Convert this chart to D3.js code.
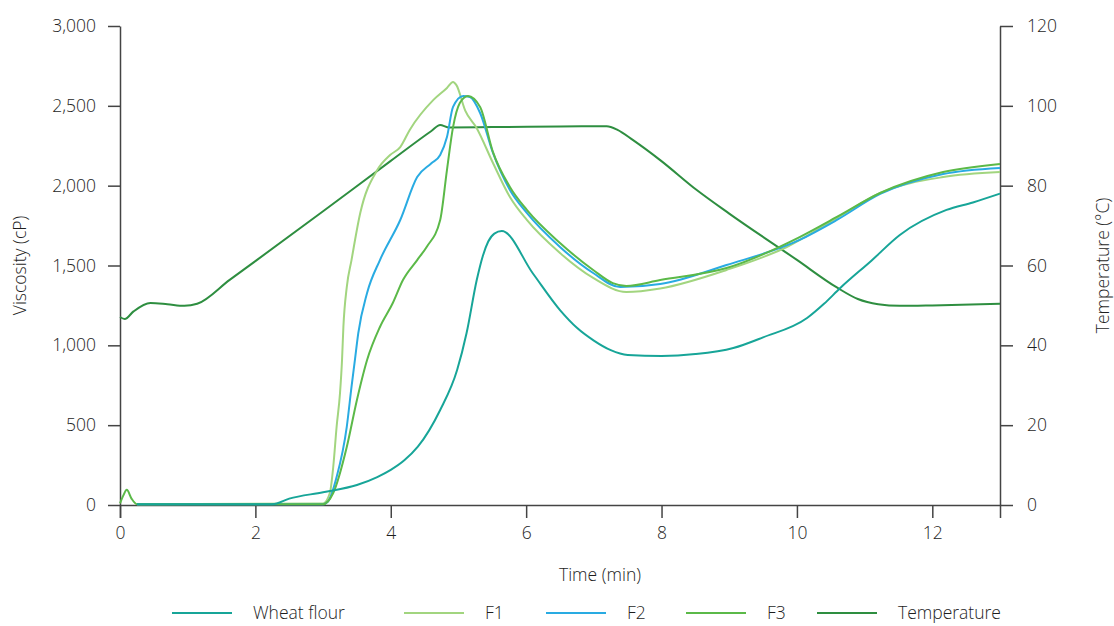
<!DOCTYPE html>
<html>
<head>
<meta charset="utf-8">
<title>Viscosity and temperature</title>
<script src="https://d3js.org/d3.v7.min.js"></script>
<style>
body { margin: 0; background: #fff; }
text { font-family: "Open Sans", sans-serif; fill: #1e1e1e; font-weight: 300; }
.axis path, .axis line { stroke: #444; stroke-width: 1.5; }
.axis text { font-size: 17.5px; }
</style>
</head>
<body>
<div id="chart"></div>
<script>
// viscosity series (cP), each with its own time samples (min)
var wheatT = [0.25, 2.25, 2.5, 3.0, 3.5, 3.8, 4.0, 4.2, 4.4, 4.73, 4.98, 5.12, 5.27, 5.36, 5.44, 5.53, 5.64, 6.1, 6.5, 6.75, 7.0, 7.25, 7.5, 8.0, 8.5, 9.06, 9.5, 10.15, 10.4, 10.64, 11.1, 11.52, 12.21, 12.6, 13];
var wheatV = [5, 5, 40, 80, 125, 175, 220, 280, 365, 595, 845, 1077, 1409, 1560, 1650, 1700, 1716, 1450, 1221, 1110, 1030, 970, 940, 933, 945, 983, 1050, 1171, 1260, 1359, 1530, 1691, 1848, 1895, 1950];

var f1T = [0.25, 3.0, 3.1, 3.15, 3.2, 3.25, 3.28, 3.3, 3.35, 3.42, 3.55, 3.8, 3.99, 4.14, 4.28, 4.63, 4.83, 4.92, 4.97, 5.1, 5.27, 5.51, 5.76, 6.01, 6.5, 6.99, 7.48, 7.98, 8.96, 9.85, 10.59, 11.23, 12.16, 13];
var f1V = [5, 10, 75, 238, 490, 700, 908, 1115, 1365, 1534, 1830, 2098, 2192, 2242, 2349, 2537, 2612, 2650, 2630, 2470, 2360, 2142, 1929, 1785, 1578, 1422, 1334, 1356, 1472, 1616, 1797, 1954, 2054, 2085];

var f2T = [0.25, 3.0, 3.07, 3.2, 3.35, 3.42, 3.47, 3.52, 3.65, 3.84, 4.14, 4.39, 4.6, 4.73, 4.83, 4.92, 5.07, 5.17, 5.32, 5.51, 5.76, 6.01, 6.5, 6.99, 7.39, 7.98, 8.96, 10.04, 10.59, 11.23, 12.16, 13];
var f2V = [5, 5, 20, 175, 490, 740, 908, 1077, 1328, 1534, 1785, 2054, 2140, 2192, 2305, 2493, 2562, 2555, 2455, 2205, 1973, 1829, 1616, 1453, 1365, 1384, 1503, 1660, 1785, 1948, 2073, 2111];

var f3T = [0, 0.05, 0.1, 0.17, 0.25, 3.0, 3.15, 3.35, 3.5, 3.65, 3.84, 4.03, 4.18, 4.39, 4.53, 4.73, 4.83, 4.92, 5.02, 5.14, 5.32, 5.51, 5.76, 6.01, 6.5, 6.99, 7.28, 7.48, 7.98, 8.96, 10.04, 10.59, 11.23, 12.16, 13];
var f3V = [10, 60, 95, 40, 5, 5, 75, 363, 658, 908, 1115, 1265, 1409, 1534, 1616, 1785, 2098, 2367, 2518, 2562, 2493, 2210, 1992, 1848, 1641, 1472, 1390, 1372, 1409, 1484, 1678, 1804, 1954, 2085, 2136];

// temperature (°C)
var tempT = [0, 0.07, 0.2, 0.45, 0.7, 0.95, 1.14, 1.62, 2, 3, 4, 4.6, 4.73, 4.85, 5.5, 6.5, 7.19, 7.35, 7.58, 7.98, 8.52, 9, 10, 10.59, 10.9, 11.2, 11.52, 12, 13];
var tempV = [47.1, 46.6, 48.5, 50.6, 50.3, 49.9, 50.4, 56.4, 61.1, 73.6, 86.2, 93.7, 95.2, 94.6, 94.7, 94.8, 94.9, 94, 91.4, 86.4, 78.9, 73, 61.4, 54.5, 51.6, 50.3, 49.9, 50.0, 50.4];

var xTicks = [0, 2, 4, 6, 8, 10, 12];
var viscTicks = [0, 500, 1000, 1500, 2000, 2500, 3000];
var tempTicks = [0, 20, 40, 60, 80, 100, 120];

var seriesNames = ["Wheat flour", "F1", "F2", "F3", "Temperature"];
var seriesColors = ["#17a598", "#a2d57f", "#29abe2", "#5bb948", "#2e8e40"];

var margin = {top: 26, right: 114, bottom: 121, left: 120},
    width = 1114 - margin.left - margin.right,
    height = 626 - margin.top - margin.bottom;

var svg = d3.select("#chart")
  .append("svg")
    .attr("width", 1114)
    .attr("height", 626);

var g = svg.append("g")
    .attr("transform", "translate(" + margin.left + "," + margin.top + ")");

var x = d3.scaleLinear().domain([0, 13]).range([0, width]);
var yV = d3.scaleLinear().domain([0, 3000]).range([height, 0]);
var yT = d3.scaleLinear().domain([0, 120]).range([height, 0]);

g.append("g")
    .attr("class", "axis")
    .attr("transform", "translate(0," + height + ")")
    .call(d3.axisBottom(x).tickValues(xTicks).tickSize(13).tickSizeOuter(13).tickPadding(9));

g.append("g")
    .attr("class", "axis")
    .call(d3.axisLeft(yV).tickValues(viscTicks).tickSize(12).tickSizeOuter(0).tickPadding(12)
      .tickFormat(d3.format(",")));

g.append("g")
    .attr("class", "axis")
    .attr("transform", "translate(" + width + ",0)")
    .call(d3.axisRight(yT).tickValues(tempTicks).tickSize(13).tickSizeOuter(0).tickPadding(14));

// axis titles
svg.append("text")
    .attr("transform", "translate(26," + (margin.top + height / 2) + ") rotate(-90)")
    .attr("text-anchor", "middle")
    .style("font-size", "17.5px")
    .text("Viscosity (cP)");

svg.append("text")
    .attr("transform", "translate(1109," + (margin.top + height / 2) + ") rotate(-90)")
    .attr("text-anchor", "middle")
    .style("font-size", "17.5px")
    .text("Temperature (°C)");

svg.append("text")
    .attr("x", 600)
    .attr("y", 581)
    .attr("text-anchor", "middle")
    .style("font-size", "17.5px")
    .text("Time (min)");

function pairs(ts, vs) {
  return ts.map(function(t, i) { return [t, vs[i]]; });
}

var viscSeries = [pairs(wheatT, wheatV), pairs(f1T, f1V), pairs(f2T, f2V), pairs(f3T, f3V)];

var viscLine = d3.line()
    .x(function(d) { return x(d[0]); })
    .y(function(d) { return yV(d[1]); })
    .curve(d3.curveMonotoneX);

var tempLine = d3.line()
    .x(function(d) { return x(d[0]); })
    .y(function(d) { return yT(d[1]); })
    .curve(d3.curveMonotoneX);

g.append("path")
    .datum(pairs(tempT, tempV))
    .attr("fill", "none")
    .attr("stroke", seriesColors[4])
    .attr("stroke-width", 2)
    .attr("d", tempLine);

// draw wheat last so it sits on top at the flat start
[1, 2, 3, 0].forEach(function(i) {
  g.append("path")
      .datum(viscSeries[i])
      .attr("fill", "none")
      .attr("stroke", seriesColors[i])
      .attr("stroke-width", 2)
      .attr("d", viscLine);
});

// legend
var legendX = [172, 404, 546, 686, 817];
var legend = svg.append("g").attr("transform", "translate(0,613)");
seriesNames.forEach(function(name, i) {
  legend.append("line")
      .attr("x1", legendX[i]).attr("x2", legendX[i] + 60)
      .attr("y1", 0).attr("y2", 0)
      .attr("stroke", seriesColors[i])
      .attr("stroke-width", 2);
  legend.append("text")
      .attr("x", legendX[i] + 81)
      .attr("y", 6)
      .style("font-size", "17.5px")
      .text(name);
});
</script>
</body>
</html>
